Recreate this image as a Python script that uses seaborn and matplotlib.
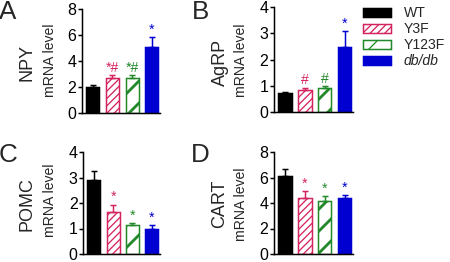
import matplotlib
matplotlib.use('Agg')
import matplotlib.pyplot as plt
import matplotlib.patches as mpatches
import seaborn as sns
import pandas as pd
import numpy as np

# ---- data ----
groups = ['WT', 'Y3F', 'Y123F', 'db/db']
genes = ['NPY', 'AgRP', 'POMC', 'CART']
letters = ['A', 'B', 'C', 'D']

npy_mean = [2.0, 2.72, 2.72, 5.1]
npy_err = [0.17, 0.17, 0.17, 0.72]
agrp_mean = [0.71, 0.84, 0.90, 2.49]
agrp_err = [0.04, 0.09, 0.08, 0.58]
pomc_mean = [2.89, 1.66, 1.13, 1.0]
pomc_err = [0.37, 0.28, 0.07, 0.13]
cart_mean = [6.08, 4.4, 4.14, 4.4]
cart_err = [0.57, 0.52, 0.39, 0.2]

npy_sig = ['', '*#', '*#', '*']
agrp_sig = ['', '#', '#', '*']
pomc_sig = ['', '*', '*', '*']
cart_sig = ['', '*', '*', '*']

npy_ticks = [0, 2, 4, 6, 8]
agrp_ticks = [0, 1, 2, 3, 4]
pomc_ticks = [0, 1, 2, 3, 4]
cart_ticks = [0, 2, 4, 6, 8]

# ---- style ----
W, H = 450, 262
DPI = 450 / 6.75
PT = 72.0 / DPI  # points per pixel

colors = ['#000000', '#d4245f', '#22892a', '#0000d0']
faces = ['#000000', '#ffffff', '#ffffff', '#0000d0']
hatches = [None, '///', '/', None]
hatch_lw = [0, 1.3, 2.8, 0]

sns.set_theme(style='ticks')
plt.rcParams['font.family'] = ['Liberation Sans', 'DejaVu Sans']
plt.rcParams['hatch.linewidth'] = 1.3 * PT

fig = plt.figure(figsize=(W / DPI, H / DPI), dpi=DPI)


def ax_px(l, r, t, b):
    return fig.add_axes([l / W, 1 - b / H, (r - l) / W, (b - t) / H])


def ftext(x, y, s, **kw):
    fig.text(x / W, 1 - y / H, s, **kw)


boxes = [(82, 160, 9, 113), (274, 353, 7, 112), (83, 160, 152, 254), (274, 353, 152, 254)]
means = [npy_mean, agrp_mean, pomc_mean, cart_mean]
errs = [npy_err, agrp_err, pomc_err, cart_err]
sigs = [npy_sig, agrp_sig, pomc_sig, cart_sig]
ticks = [npy_ticks, agrp_ticks, pomc_ticks, cart_ticks]
gene_pos = [(27, 62), (220, 62), (27, 204), (220, 204)]
mrna_pos = [(50, 60), (241, 60), (50, 200), (241, 204)]
letter_pos = [(8, 12), (200, 12), (8, 155), (200, 155)]

has_hlw = hasattr(mpatches.Patch, 'set_hatch_linewidth')

legend_handles = []
for i in range(4):
    ax = ax_px(*boxes[i])
    df = pd.DataFrame({'group': groups, 'value': means[i]})
    sns.barplot(data=df, x='group', y='value', hue='group', hue_order=groups,
                order=groups, palette=colors, width=0.67, errorbar=None,
                legend=False, ax=ax)
    bars = sorted(ax.patches, key=lambda p: p.get_x())
    for j, p in enumerate(bars):
        p.set_facecolor(faces[j])
        p.set_edgecolor(colors[j])
        p.set_linewidth(1.5 * PT)
        if hatches[j]:
            p.set_hatch(hatches[j])
            if has_hlw:
                p.set_hatch_linewidth(hatch_lw[j] * PT)
        # one-sided error bar
        ax.errorbar([j], [means[i][j]], yerr=[[0], [errs[i][j]]], fmt='none',
                    ecolor=colors[j], elinewidth=1.5 * PT, capsize=3.5 * PT,
                    capthick=1.5 * PT, zorder=1)
        if sigs[i][j]:
            ax.annotate(sigs[i][j], (j, means[i][j] + errs[i][j]),
                        xytext=(0, 0.5), textcoords='offset points',
                        ha='center', va='bottom', color=colors[j],
                        fontsize=14 * PT)
        if i == 0:
            h = mpatches.Patch(facecolor=faces[j], edgecolor=colors[j],
                               linewidth=1.5 * PT, hatch=hatches[j],
                               label=groups[j])
            if hatches[j] and has_hlw:
                h.set_hatch_linewidth(hatch_lw[j] * PT)
            legend_handles.append(h)
    ax.set_xlim(-0.55, 3.42)
    ax.set_ylim(0, ticks[i][-1])
    ax.set_yticks(ticks[i])
    ax.set_xticks([])
    ax.set_xlabel('')
    ax.set_ylabel('')
    sns.despine(ax=ax)
    for s in ['left', 'bottom']:
        ax.spines[s].set_linewidth(1.5 * PT)
        ax.spines[s].set_color('black')
    ax.tick_params(axis='y', length=4 * PT, width=1.5 * PT, pad=1.5 * PT,
                   labelsize=16 * PT, color='black', labelcolor='black')
    ax.set_facecolor('none')
    ftext(*gene_pos[i], genes[i], rotation=90, ha='center', va='center',
          fontsize=18 * PT)
    ftext(*mrna_pos[i], 'mRNA level', rotation=90, ha='center', va='center',
          fontsize=14 * PT)
    ftext(*letter_pos[i], letters[i], ha='center', va='center',
          fontsize=26 * PT)

leg = fig.legend(handles=legend_handles, loc='upper left',
                 bbox_to_anchor=(363 / W, 1 - 6 / H), frameon=False,
                 fontsize=14 * PT, handlelength=2.0, handleheight=0.6,
                 handletextpad=0.9, labelspacing=0.15, borderpad=0,
                 borderaxespad=0)
leg.get_texts()[3].set_fontstyle('italic')

fig.savefig('out.png', dpi=DPI)
